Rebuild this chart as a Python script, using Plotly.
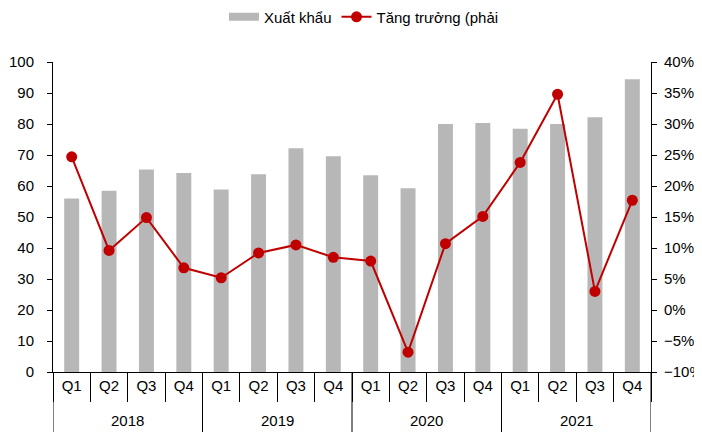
import plotly.graph_objects as go

years = ["2018"] * 4 + ["2019"] * 4 + ["2020"] * 4 + ["2021"] * 4
quarters = ["Q1", "Q2", "Q3", "Q4"] * 4
export_vals = [56.0, 58.5, 65.3, 64.2, 58.9, 63.8, 72.2, 69.6,
               63.5, 59.3, 80.0, 80.3, 78.5, 80.0, 82.2, 94.4]
growth_pct = [24.7, 9.6, 14.9, 6.8, 5.2, 9.2, 10.5, 8.5,
              7.9, -6.8, 10.7, 15.1, 23.8, 34.8, 3.0, 17.7]

cats = [f"{y} {q}" for y, q in zip(years, quarters)]
FS = 15
font = dict(family="Liberation Sans, Arial, sans-serif", size=FS, color="#000000")
BAR_COLOR = "#b7b7b7"
LINE_COLOR = "#c00000"

fig = go.Figure()
fig.add_trace(go.Bar(
    x=cats, y=export_vals, name="Xuất khẩu", showlegend=False,
    marker=dict(color=BAR_COLOR, line=dict(width=0)), width=0.4,
))
# legend entry drawn as a wide grey band, like the reference legend
fig.add_trace(go.Scatter(
    x=[None], y=[None], name="Xuất khẩu", mode="lines",
    line=dict(color=BAR_COLOR, width=8), showlegend=True,
))
fig.add_trace(go.Scatter(
    x=cats, y=growth_pct, name="Tăng trưởng (phải", yaxis="y2",
    mode="lines+markers", line=dict(color=LINE_COLOR, width=2),
    marker=dict(color=LINE_COLOR, size=11),
))

# year group dividers and labels
year_names = list(dict.fromkeys(years))
shapes = []
annotations = []
start = 0
bounds = [-0.5]
for yname in year_names:
    n = years.count(yname)
    annotations.append(dict(x=start + (n - 1) / 2, y=-0.158, xref="x", yref="paper",
                            text=yname, showarrow=False, font=dict(size=FS),
                            yanchor="middle"))
    start += n
    bounds.append(start - 0.5)
for b in bounds:
    shapes.append(dict(type="line", xref="x", yref="paper", x0=b, x1=b,
                       y0=0, y1=-0.2, line=dict(color="#000000", width=1)))

fig.update_layout(
    width=694, height=424,
    margin=dict(l=45, r=51, t=54, b=60, autoexpand=False),
    paper_bgcolor="white", plot_bgcolor="white",
    font=font,
    showlegend=True,
    legend=dict(orientation="h", x=0.52, xanchor="center", y=1.145, yref="paper",
                yanchor="middle", font=dict(size=FS), bgcolor="rgba(0,0,0,0)",
                tracegroupgap=10),
    shapes=shapes,
    annotations=annotations,
    xaxis=dict(type="category", tickvals=cats, ticktext=quarters,
               range=[-0.5, len(cats) - 0.5], automargin=False,
               showline=True, linecolor="#000000", linewidth=1,
               ticks="outside", tickson="boundaries", ticklen=29, tickcolor="#000000",
               showgrid=False, tickfont=dict(size=FS)),
    yaxis=dict(range=[0, 100], dtick=10, showline=True, linecolor="#000000",
               ticks="outside", ticklen=5, tickcolor="#000000", showgrid=False,
               zeroline=False, tickfont=dict(size=FS), automargin=False,
               ticklabelstandoff=10),
    yaxis2=dict(range=[-10, 40], dtick=5, overlaying="y", side="right",
                showline=True, linecolor="#000000", ticks="outside", ticklen=5,
                tickcolor="#000000", ticksuffix="%", showgrid=False, zeroline=False,
                tickfont=dict(size=FS), automargin=False, ticklabelstandoff=4),
)

fig.write_html("out.html")
